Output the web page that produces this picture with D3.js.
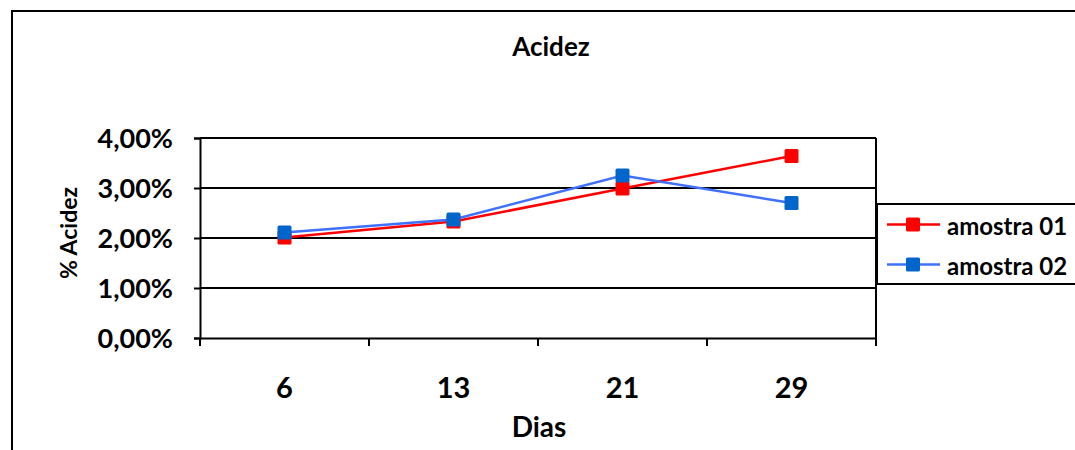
<!DOCTYPE html>
<html><head><meta charset="utf-8">
<script src="https://cdn.jsdelivr.net/npm/d3@7"></script>
<style>body{margin:0;background:#fff}svg{display:block}text{font-family:Lato,"Open Sans",sans-serif;font-weight:bold;fill:#000}</style>
</head><body>
<script>
const categories = ["6","13","21","29"];
const amostra01 = [0.0201,0.0233,0.0299,0.0364];
const amostra02 = [0.0211,0.0237,0.0325,0.0270];
const yTicks = [0,0.01,0.02,0.03,0.04];
const seriesNames = ["amostra 01","amostra 02"];
const lineColors = ["#FF0000","#4070FF"];
const markerColors = ["#FF0000","#0066CC"];

const W=1075,H=450;
const svg=d3.select("body").append("svg").attr("width",W).attr("height",H);
svg.append("rect").attr("x",12).attr("y",11).attr("width",1100).attr("height",500).attr("fill","#fff").attr("stroke","#000").attr("stroke-width",2);

const m={l:200,r:876,t:138,b:338};
const x=d3.scaleBand().domain(categories).range([m.l,m.r]);
const y=d3.scaleLinear().domain([0,0.04]).range([m.b,m.t]);
const fmt=v=>(v*100).toFixed(2).replace(".",",")+"%";

svg.append("g").selectAll("line").data(yTicks.slice(1)).join("line")
 .attr("x1",m.l).attr("x2",m.r).attr("y1",d=>y(d)).attr("y2",d=>y(d)).attr("stroke","#000").attr("stroke-width",2);
svg.append("line").attr("x1",m.r).attr("x2",m.r).attr("y1",m.t).attr("y2",m.b).attr("stroke","#000").attr("stroke-width",2);

const ya=svg.append("g").attr("transform",`translate(${m.l},0)`)
 .call(d3.axisLeft(y).tickValues(yTicks).tickFormat(fmt).tickSize(6).tickPadding(21));
ya.select(".domain").attr("stroke","#000").attr("stroke-width",2);
ya.selectAll(".tick line").attr("stroke","#000").attr("stroke-width",2);
ya.selectAll(".tick text").style("font-size","27px").attr("dy","0.34em");

const xa=svg.append("g").attr("transform",`translate(0,${m.b})`)
 .call(d3.axisBottom(x).tickSize(0));
xa.select(".domain").attr("stroke","#000").attr("stroke-width",2);
xa.selectAll(".tick text").style("font-size","29px").attr("y",60).attr("dy",0);
const bounds=categories.map(c=>x(c)).concat([m.r]);
svg.append("g").selectAll("line").data(bounds).join("line")
 .attr("x1",d=>d).attr("x2",d=>d).attr("y1",m.b).attr("y2",m.b+8).attr("stroke","#000").attr("stroke-width",2);

const cx=c=>x(c)+x.bandwidth()/2;
[amostra01,amostra02].forEach((s,i)=>{
 const data=categories.map((c,j)=>({c,v:s[j]}));
 svg.append("path").datum(data).attr("fill","none").attr("stroke",lineColors[i]).attr("stroke-width",2.5)
  .attr("d",d3.line().x(d=>cx(d.c)).y(d=>y(d.v)));
 svg.append("g").selectAll("rect").data(data).join("rect")
  .attr("x",d=>cx(d.c)-7).attr("y",d=>y(d.v)-7).attr("width",14).attr("height",14).attr("rx",1.5)
  .attr("fill",markerColors[i]);
});

svg.append("text").attr("x",551).attr("y",56).attr("text-anchor","middle").style("font-size","26px").text("Acidez");
svg.append("text").attr("x",539).attr("y",437).attr("text-anchor","middle").style("font-size","28px").text("Dias");
svg.append("text").attr("transform",`translate(77,233) rotate(-90)`).attr("text-anchor","middle").style("font-size","23px").text("% Acidez");

const lg=svg.append("g");
lg.append("rect").attr("x",877).attr("y",204).attr("width",220).attr("height",80).attr("fill","#fff").attr("stroke","#000").attr("stroke-width",2);
seriesNames.forEach((n,i)=>{
 const ly=224.5+i*40;
 lg.append("line").attr("x1",887).attr("x2",940).attr("y1",ly).attr("y2",ly).attr("stroke",lineColors[i]).attr("stroke-width",2.5);
 lg.append("rect").attr("x",906).attr("y",ly-7).attr("width",14).attr("height",14).attr("rx",1.5).attr("fill",markerColors[i]);
 lg.append("text").attr("x",947).attr("y",ly+10).style("font-size","24px").text(n);
});
</script>
</body></html>
